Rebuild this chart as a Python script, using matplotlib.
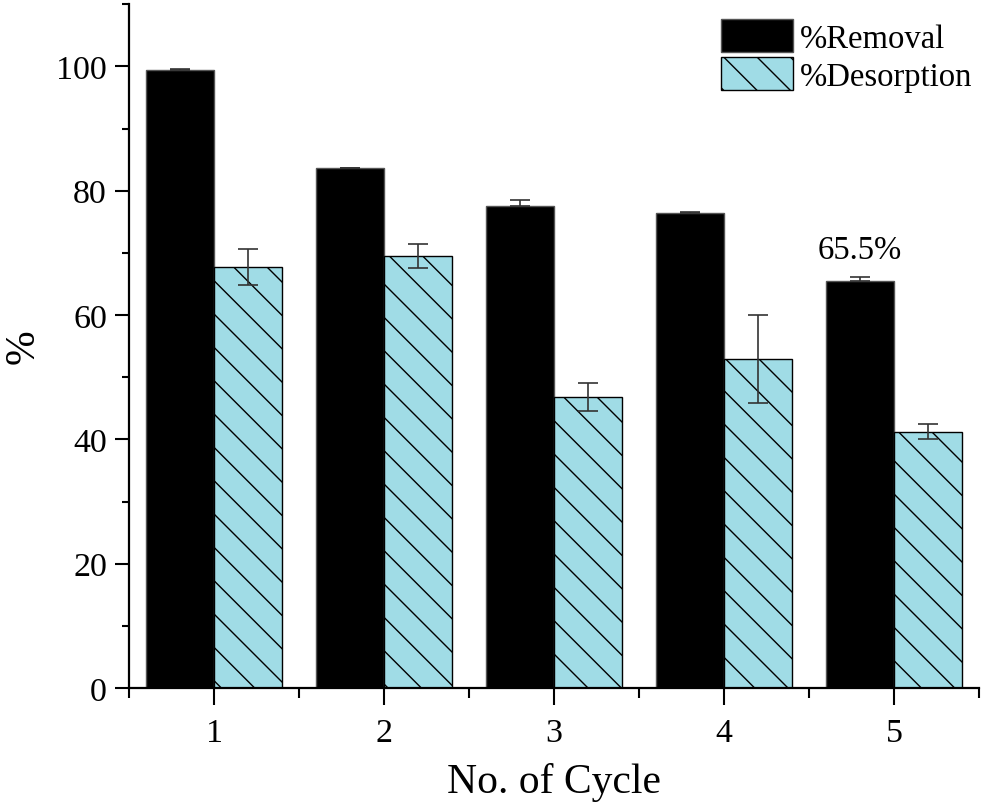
import matplotlib
matplotlib.use('Agg')
import matplotlib.pyplot as plt
from matplotlib.ticker import MultipleLocator
import numpy as np

plt.rcParams['font.family'] = ['Liberation Serif', 'DejaVu Serif']
plt.rcParams['hatch.linewidth'] = 1.0

# data
cycles = [1, 2, 3, 4, 5]
removal = [99.5, 83.6, 77.5, 76.4, 65.5]
removal_err = [0.1, 0.1, 1.0, 0.1, 0.6]
desorption = [67.7, 69.5, 46.8, 52.9, 41.2]
desorption_err = [2.9, 2.0, 2.2, 7.1, 1.2]

fig = plt.figure(figsize=(9.86, 8.12), dpi=100)
ax = fig.add_axes([0.131, 0.1515, 0.862, 0.842])

x = np.array(cycles)
w = 0.4
ekw = dict(ecolor='#333333', elinewidth=1.2, capsize=7, capthick=1.2)
# the lower half of the removal error bars disappears inside the black bars
ax.bar(x - w / 2, removal, w, color='black', edgecolor='#555555', linewidth=1,
       yerr=[[0] * len(removal_err), removal_err], error_kw=ekw, label='%Removal')
ax.bar(x + w / 2, desorption, w, color='#a0dce6', edgecolor='black', linewidth=1,
       hatch='\\', yerr=desorption_err, error_kw=ekw, label='%Desorption')

ax.text(x[4] - w / 2, removal[4] + 2.6, '65.5%', ha='center', va='bottom', fontsize=23.5)

ax.set_xlim(0.5, 5.5)
ax.set_ylim(0, 110)
ax.set_xticks(cycles)
ax.xaxis.set_minor_locator(MultipleLocator(0.5))
ax.yaxis.set_major_locator(MultipleLocator(20))
ax.yaxis.set_minor_locator(MultipleLocator(10))

for s in ['top', 'right']:
    ax.spines[s].set_visible(False)
for s in ['left', 'bottom']:
    ax.spines[s].set_linewidth(1.6)

ax.tick_params(axis='both', which='major', direction='out', length=10, width=1.5,
               labelsize=24.5)
ax.tick_params(axis='both', which='minor', direction='out', length=5, width=1.5)
ax.tick_params(axis='y', which='major', pad=6)
ax.tick_params(axis='x', which='major', length=12, pad=9)
ax.tick_params(axis='x', which='minor', length=7)

ax.set_xlabel('No. of Cycle', fontsize=30, labelpad=10)
ax.set_ylabel('%', fontsize=30, labelpad=10)

ax.legend(loc='upper right', bbox_to_anchor=(1.009, 1.0), frameon=False, fontsize=23.5,
          handlelength=2.2, handleheight=1.2, labelspacing=0.1, handletextpad=0.2,
          borderaxespad=0.0, borderpad=0.45)

fig.savefig('out.png', dpi=100)
